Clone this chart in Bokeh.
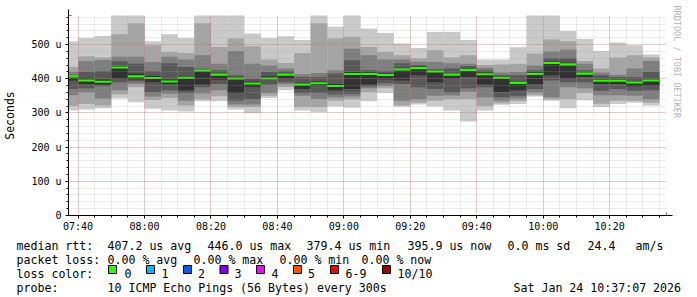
import math
from bokeh.plotting import figure
from bokeh.models import Range1d, FixedTicker, Arrow, NormalHead, Title
from bokeh.core.properties import value
from bokeh.embed import file_html
from bokeh.resources import INLINE

# ---------------- data ----------------
graph_start = "07:37:07"
graph_end = "10:37:07"
step_min = 5
bin_end = ["07:40", "07:45", "07:50", "07:55", "08:00", "08:05", "08:10", "08:15", "08:20",
           "08:25", "08:30", "08:35", "08:40", "08:45", "08:50", "08:55", "09:00", "09:05",
           "09:10", "09:15", "09:20", "09:25", "09:30", "09:35", "09:40", "09:45", "09:50",
           "09:55", "10:00", "10:05", "10:10", "10:15", "10:20", "10:25", "10:30", "10:35"]

# sorted ping values per 5-min bin (us), ping1 = fastest ... ping10 = slowest
ping10 = [510, 519, 525, 600, 600, 510, 530, 519, 600, 600, 600, 532, 519, 524, 513, 600, 552, 600,
          547, 534, 503, 490, 537, 537, 513, 456, 456, 492, 600, 600, 540, 516, 481, 506, 498, 471]
ping9 = [434, 466, 462, 530, 562, 498, 478, 475, 562, 493, 518, 495, 456, 446, 475, 562, 518, 523,
         493, 478, 469, 460, 483, 462, 469, 440, 442, 444, 474, 515, 510, 452, 430, 462, 469, 462]
ping8 = [420, 451, 455, 464, 464, 449, 464, 456, 469, 444, 481, 444, 439, 430, 413, 417, 425, 488,
         469, 456, 456, 450, 449, 445, 444, 432, 418, 420, 439, 480, 485, 444, 418, 412, 430, 452]
ping7 = [412, 420, 422, 451, 444, 422, 445, 434, 429, 425, 410, 400, 420, 422, 405, 405, 415, 454,
         425, 422, 445, 440, 428, 430, 437, 425, 410, 410, 425, 460, 460, 425, 410, 405, 405, 420]
ping6 = [409, 402, 398, 437, 415, 408, 398, 407, 427, 416, 405, 392, 407, 415, 388, 392, 385, 420,
         418, 415, 430, 436, 424, 416, 431, 418, 407, 392, 418, 450, 447, 419, 398, 398, 392, 399]
ping5 = [395, 385, 383, 400, 398, 390, 385, 366, 383, 397, 358, 376, 396, 400, 370, 380, 366, 370,
         383, 398, 395, 410, 390, 400, 405, 383, 361, 366, 385, 410, 400, 405, 385, 385, 378, 380]
ping4 = [370, 372, 378, 390, 392, 361, 366, 358, 375, 385, 336, 340, 383, 390, 358, 358, 355, 356,
         377, 387, 385, 375, 370, 360, 372, 375, 346, 350, 370, 395, 390, 390, 365, 370, 365, 366]
ping3 = [352, 360, 342, 366, 385, 348, 356, 336, 357, 366, 325, 325, 358, 384, 350, 341, 345, 348,
         372, 379, 336, 340, 350, 351, 362, 345, 336, 342, 360, 346, 375, 372, 352, 352, 350, 340]
ping2 = [320, 326, 322, 354, 375, 338, 344, 322, 340, 349, 317, 317, 350, 376, 317, 317, 336, 340,
         361, 372, 322, 330, 336, 340, 341, 320, 328, 335, 352, 340, 341, 358, 327, 336, 335, 330]
ping1 = [307, 310, 314, 342, 331, 312, 307, 304, 334, 334, 310, 299, 344, 366, 307, 303, 319, 315,
         334, 358, 318, 325, 319, 307, 275, 307, 324, 326, 348, 336, 314, 337, 317, 326, 330, 322]
median = [407, 395, 391, 433, 407, 402, 392, 403, 424, 412, 401, 386, 401, 412, 383, 387, 379, 414,
          414, 411, 427, 431, 421, 412, 426, 413, 403, 388, 414, 446, 442, 415, 394, 394, 389, 395]

x_tick_labels = ["07:40", "08:00", "08:20", "08:40", "09:00", "09:20", "09:40", "10:00", "10:20"]
y_tick_values = [0, 100, 200, 300, 400, 500]
y_tick_labels = ["0", "100 u", "200 u", "300 u", "400 u", "500 u"]
y_max = 585

loss_labels = ["0", "1", "2", "3", "4", "5", "6-9", "10/10"]
loss_colors = ["#26ff00", "#00b8ff", "#0059ff", "#7e00ff", "#ff00ff", "#ff5500", "#ff0000", "#a10000"]
smoke_colors = ["#cacaca", "#a4a4a4", "#7e7e7e", "#585858", "#323232"]

def to_min(s):
    parts = [int(t) for t in s.split(":")]
    sec = parts[2] if len(parts) > 2 else 0
    return parts[0] * 60 + parts[1] + sec / 60.0 - 420

x0 = to_min(graph_start)
x1 = to_min(graph_end)
rights = [to_min(t) for t in bin_end]
lefts = [max(r - step_min, x0) for r in rights]

MONO = "DejaVu Sans Mono"

p = figure(width=697, height=235, x_range=Range1d(x0, x1), y_range=Range1d(0, y_max),
           toolbar_location=None, output_backend="svg",
           min_border_left=66, min_border_right=31, min_border_top=15, min_border_bottom=20)
p.outline_line_color = None
p.background_fill_color = "white"
p.border_fill_color = "white"

pings = [ping1, ping2, ping3, ping4, ping5, ping6, ping7, ping8, ping9, ping10]
for i in range(5):
    p.quad(left=lefts, right=rights, bottom=pings[i], top=pings[9 - i],
           fill_color=smoke_colors[i], line_color=None)

med_lo = [m - 3 for m in median]
med_hi = [m + 3 for m in median]
p.quad(left=lefts, right=rights, bottom=med_lo, top=med_hi, fill_color=loss_colors[0], line_color=None)

# axes
major_x = [to_min(t) for t in x_tick_labels]
p.xaxis.ticker = FixedTicker(ticks=major_x, minor_ticks=rights)
p.xaxis.major_label_overrides = {t: l for t, l in zip(major_x, x_tick_labels)}
minor_y = list(range(0, 581, 20))
p.yaxis.ticker = FixedTicker(ticks=y_tick_values, minor_ticks=minor_y)
p.yaxis.major_label_overrides = {t: l for t, l in zip(y_tick_values, y_tick_labels)}

for ax in (p.xaxis[0], p.yaxis[0]):
    ax.axis_line_color = "black"
    ax.major_tick_line_color = "black"
    ax.minor_tick_line_color = "black"
    ax.major_tick_in = 0
    ax.minor_tick_in = 0
    ax.major_tick_out = 3
    ax.minor_tick_out = 2
    ax.major_label_text_font = MONO
    ax.major_label_text_font_size = "10px"
    ax.major_label_text_color = "black"
p.xaxis.major_label_standoff = 2
p.yaxis.major_label_standoff = 4
p.yaxis.axis_label = "Seconds"
p.yaxis.axis_label_text_font = MONO
p.yaxis.axis_label_text_font_size = "11.5px"
p.yaxis.axis_label_text_font_style = "normal"
p.yaxis.axis_label_text_color = "black"
p.yaxis.axis_label_standoff = 11

for g in (p.xgrid[0], p.ygrid[0]):
    g.grid_line_color = "#e05050"
    g.grid_line_alpha = 0.45
    g.grid_line_dash = "1 1"
    g.minor_grid_line_color = "#a0a0a0"
    g.minor_grid_line_alpha = 0.4
    g.minor_grid_line_dash = "1 1"
    g.level = "guide"

# axis arrows
px_per_min = 600.0 / (x1 - x0)
px_per_u = 200.0 / y_max
p.add_layout(Arrow(end=NormalHead(size=6, fill_color="#991111", line_color="#991111"),
                   x_start=x0, y_start=0, x_end=x0, y_end=y_max + 6 / px_per_u,
                   line_color="black", line_width=1))
p.add_layout(Arrow(end=NormalHead(size=6, fill_color="#991111", line_color="#991111"),
                   x_start=x0, y_start=0, x_end=x1 + 6 / px_per_min, y_end=0,
                   line_color="black", line_width=1))

# rrdtool watermark on the right side
p.add_layout(Title(text="RRDTOOL / TOBI OETIKER", align="left", offset=-10,
                   vertical_align="top", standoff=6,
                   text_font=MONO, text_font_size="8.5px", text_font_style="normal",
                   text_color="#b4b4b4"), "right")

# ---------------- legend area ----------------
p2 = figure(width=697, height=62, x_range=Range1d(0, 697), y_range=Range1d(62, 0),
            toolbar_location=None, output_backend="svg", min_border=0,
            x_axis_type=None, y_axis_type=None)
p2.outline_line_color = None
p2.grid.visible = False

tx = [16, 107, 207, 306, 407, 507, 587, 635,
      16, 107, 193, 279, 361,
      16,
      16, 107, 513]
ty = [10] * 8 + [24] * 5 + [38] + [52] * 3
tt = ["median rtt:", "407.2 us avg", "446.0 us max", "379.4 us min", "395.9 us now",
      "0.0 ms sd", "24.4", "am/s",
      "packet loss:", "0.00 % avg", "0.00 % max", "0.00 % min", "0.00 % now",
      "loss color:",
      "probe:", "10 ICMP Echo Pings (56 Bytes) every 300s", "Sat Jan 24 10:37:07 2026"]
p2.text(x=tx, y=ty, text=tt, text_font=value(MONO), text_font_size=value("11.6px"),
        text_color="black", text_align="left", text_baseline="alphabetic")

sq_left = [108, 146, 183, 219.5, 256, 293, 330, 382]
lab_x = [124, 161, 197.5, 234, 271, 307.5, 345, 397]
p2.quad(left=sq_left, right=[s + 8 for s in sq_left], top=[30] * 8, bottom=[38] * 8,
        fill_color=loss_colors, line_color="black", line_width=1)
p2.text(x=lab_x, y=[38] * 8, text=loss_labels, text_font=value(MONO),
        text_font_size=value("11.6px"), text_color="black", text_align="left",
        text_baseline="alphabetic")

open("out.html", "w").write(file_html([p, p2], INLINE))
